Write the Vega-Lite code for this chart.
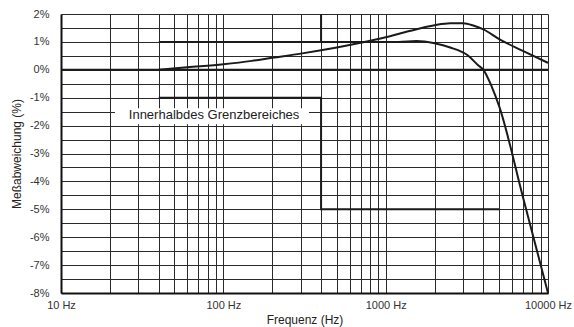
{
  "$schema": "https://vega.github.io/schema/vega-lite/v6.json",
  "width": 487,
  "height": 279,
  "autosize": {"type": "none"},
  "padding": {"left": 61, "top": 14, "right": 26, "bottom": 34},
  "config": {"font": "Liberation Sans", "view": {"stroke": null}},
  "data": {
    "values": [
      {"s": "box", "f": 21.5, "f2": 337, "v": -1.38, "v2": -1.95},
      {"s": "label", "f": 87.7, "v": -1.78, "t": "Innerhalbdes Grenzbereiches"},
      {"s": "zero", "i": 0, "f": 10, "v": 0},
      {"s": "zero", "i": 1, "f": 10000, "v": 0},
      {"s": "upper", "i": 0, "f": 40, "v": 1},
      {"s": "upper", "i": 1, "f": 400, "v": 1},
      {"s": "upper", "i": 2, "f": 400, "v": 2},
      {"s": "lower", "i": 0, "f": 40, "v": -1},
      {"s": "lower", "i": 1, "f": 400, "v": -1},
      {"s": "lower", "i": 2, "f": 400, "v": -5},
      {"s": "lower", "i": 3, "f": 5000, "v": -5},
      {"s": "A", "i": 0, "f": 40, "v": 0},
      {"s": "A", "i": 1, "f": 60, "v": 0.09},
      {"s": "A", "i": 2, "f": 100, "v": 0.2},
      {"s": "A", "i": 3, "f": 150, "v": 0.32},
      {"s": "A", "i": 4, "f": 200, "v": 0.43},
      {"s": "A", "i": 5, "f": 300, "v": 0.58},
      {"s": "A", "i": 6, "f": 400, "v": 0.7},
      {"s": "A", "i": 7, "f": 500, "v": 0.8},
      {"s": "A", "i": 8, "f": 700, "v": 0.97},
      {"s": "A", "i": 9, "f": 1000, "v": 1.17},
      {"s": "A", "i": 10, "f": 1400, "v": 1.39},
      {"s": "A", "i": 11, "f": 2000, "v": 1.6},
      {"s": "A", "i": 12, "f": 2500, "v": 1.67},
      {"s": "A", "i": 13, "f": 3000, "v": 1.67},
      {"s": "A", "i": 14, "f": 3500, "v": 1.58},
      {"s": "A", "i": 15, "f": 4000, "v": 1.45},
      {"s": "A", "i": 16, "f": 5000, "v": 1.1},
      {"s": "A", "i": 17, "f": 7000, "v": 0.68},
      {"s": "A", "i": 18, "f": 10000, "v": 0.25},
      {"s": "B", "i": 0, "f": 400, "v": 1.0},
      {"s": "B", "i": 1, "f": 800, "v": 1.0},
      {"s": "B", "i": 2, "f": 1200, "v": 1.0},
      {"s": "B", "i": 3, "f": 1550, "v": 1.03},
      {"s": "B", "i": 4, "f": 2000, "v": 0.95},
      {"s": "B", "i": 5, "f": 2500, "v": 0.8},
      {"s": "B", "i": 6, "f": 3200, "v": 0.52},
      {"s": "B", "i": 7, "f": 3700, "v": 0.17},
      {"s": "B", "i": 8, "f": 4000, "v": 0.0},
      {"s": "B", "i": 9, "f": 4500, "v": -0.6},
      {"s": "B", "i": 10, "f": 5000, "v": -1.3},
      {"s": "B", "i": 11, "f": 7000, "v": -4.55},
      {"s": "B", "i": 12, "f": 10000, "v": -8}
    ]
  },
  "encoding": {
    "x": {
      "field": "f",
      "type": "quantitative",
      "scale": {"type": "log", "domain": [10, 10000], "nice": false},
      "axis": {
        "title": "Frequenz (Hz)",
        "values": [10, 20, 30, 40, 50, 60, 70, 80, 90, 100, 200, 300, 400, 500, 600, 700, 800, 900, 1000, 2000, 3000, 4000, 5000, 6000, 7000, 8000, 9000, 10000],
        "labelExpr": "(datum.value == 10 || datum.value == 100 || datum.value == 1000 || datum.value == 10000) ? datum.value + ' Hz' : ''",
        "labelOverlap": false,
        "labelBound": false,
        "labelFlush": false,
        "grid": true,
        "gridColor": "#2a2a2a",
        "gridWidth": 1,
        "ticks": false,
        "domainColor": "#111",
        "domainWidth": 2,
        "labelFontSize": 11,
        "labelColor": "#333",
        "labelPadding": 6,
        "titleFontSize": 12,
        "titleFontWeight": "normal",
        "titleColor": "#222",
        "titlePadding": 4
      }
    },
    "y": {
      "field": "v",
      "type": "quantitative",
      "scale": {"domain": [-8, 2], "nice": false, "zero": false},
      "axis": {
        "title": "Meßabweichung (%)",
        "values": [-8, -7.5, -7, -6.5, -6, -5.5, -5, -4.5, -4, -3.5, -3, -2.5, -2, -1.5, -1, -0.5, 0, 0.5, 1, 1.5, 2],
        "labelExpr": "datum.value % 1 == 0 ? datum.value + '%' : ''",
        "labelOverlap": false,
        "labelBound": false,
        "labelFlush": false,
        "grid": true,
        "gridColor": "#2a2a2a",
        "gridWidth": 1,
        "ticks": false,
        "domainColor": "#111",
        "domainWidth": 2,
        "labelFontSize": 11,
        "labelColor": "#333",
        "labelPadding": 12,
        "titleFontSize": 12,
        "titleFontWeight": "normal",
        "titleColor": "#222",
        "titlePadding": 6
      }
    }
  },
  "layer": [
    {
      "transform": [{"filter": "datum.s == 'box'"}],
      "mark": {"type": "rect", "fill": "white", "stroke": null},
      "encoding": {"x2": {"field": "f2"}, "y2": {"field": "v2"}}
    },
    {
      "transform": [{"filter": "datum.s == 'label'"}],
      "mark": {"type": "text", "fontSize": 13, "color": "#222", "baseline": "alphabetic", "align": "center"},
      "encoding": {"text": {"field": "t"}}
    },
    {
      "transform": [{"filter": "datum.s == 'zero' || datum.s == 'upper' || datum.s == 'lower'"}],
      "mark": {"type": "line", "color": "#1a1a1a", "strokeWidth": 2, "interpolate": "linear"},
      "encoding": {"detail": {"field": "s"}, "order": {"field": "i", "type": "quantitative"}}
    },
    {
      "transform": [{"filter": "datum.s == 'A' || datum.s == 'B'"}],
      "mark": {"type": "line", "color": "#1a1a1a", "strokeWidth": 2, "interpolate": "monotone"},
      "encoding": {"detail": {"field": "s"}, "order": {"field": "i", "type": "quantitative"}}
    }
  ]
}
